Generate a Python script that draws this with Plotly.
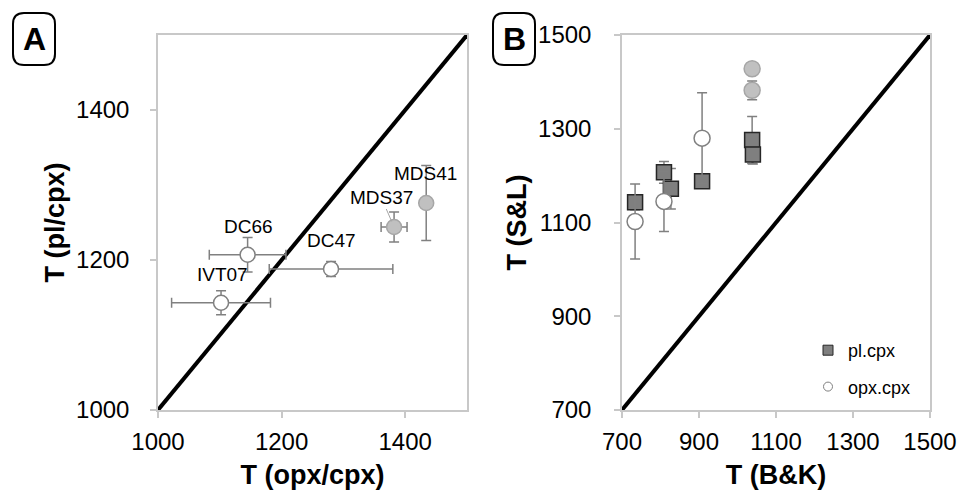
import plotly.graph_objects as go

# Panel A: pl/cpx vs opx/cpx thermometers
a_names = ["IVT07", "DC66", "DC47", "MDS37", "MDS41"]
a_opx_cpx = [1102, 1145, 1280, 1382, 1434]
a_opx_cpx_err = [80, 62, 100, 21, 0]
a_pl_cpx = [1143, 1207, 1188, 1244, 1276]
a_pl_cpx_err = [16, 23, 10, 20, 50]
a_fill = ["white", "white", "white", "#c0c0c0", "#c0c0c0"]
a_edge = ["#808080", "#808080", "#808080", "#a6a6a6", "#a6a6a6"]
a_label_shift = [(1, -28), (1, -28), (0, -29), (-13, -30), (-1, -30)]

# Panel B: S&L vs B&K
b_pl_bk = [734, 809, 827, 908, 1038, 1040]
b_pl_sl = [1143, 1207, 1172, 1188, 1276, 1245]
b_pl_err = [16, 23, 43, 10, 50, 20]
b_opx_bk = [734, 809, 908, 1038, 1038]
b_opx_sl = [1102, 1145, 1280, 1428, 1382]
b_opx_err = [80, 64, 97, 0, 20]
b_opx_fill = ["white", "white", "white", "#c0c0c0", "#c0c0c0"]
b_opx_edge = ["#808080", "#808080", "#808080", "#a6a6a6", "#a6a6a6"]

a_range = [1000, 1500]
b_range = [700, 1500]
a_ticks = [1000, 1200, 1400]
b_ticks = [700, 900, 1100, 1300, 1500]

W, H = 962, 492
FONT = "Liberation Sans, Arial, sans-serif"
ERR = "#808080"

fig = go.Figure()

# 1:1 lines
fig.add_trace(go.Scatter(x=a_range, y=a_range, mode="lines",
                         line=dict(color="black", width=4),
                         xaxis="x", yaxis="y", showlegend=False, hoverinfo="skip"))
fig.add_trace(go.Scatter(x=b_range, y=b_range, mode="lines",
                         line=dict(color="black", width=4),
                         xaxis="x2", yaxis="y2", showlegend=False, hoverinfo="skip"))

# Panel A points
fig.add_trace(go.Scatter(
    x=a_opx_cpx, y=a_pl_cpx, mode="markers", xaxis="x", yaxis="y",
    error_x=dict(type="data", array=a_opx_cpx_err, color=ERR, thickness=1.5, width=5),
    error_y=dict(type="data", array=a_pl_cpx_err, color=ERR, thickness=1.5, width=5),
    marker=dict(symbol="circle", size=15, color=a_fill,
                line=dict(color=a_edge, width=1.5)),
    showlegend=False))

# Panel B points
fig.add_trace(go.Scatter(
    x=b_pl_bk, y=b_pl_sl, mode="markers", xaxis="x2", yaxis="y2",
    error_y=dict(type="data", array=b_pl_err, color=ERR, thickness=1.5, width=5),
    marker=dict(symbol="square", size=15, color="#7f7f7f",
                line=dict(color="#262626", width=1.5)),
    showlegend=False))
fig.add_trace(go.Scatter(
    x=b_opx_bk, y=b_opx_sl, mode="markers", xaxis="x2", yaxis="y2",
    error_y=dict(type="data", array=b_opx_err, color=ERR, thickness=1.5, width=5),
    marker=dict(symbol="circle", size=16, color=b_opx_fill,
                line=dict(color=b_opx_edge, width=1.5)),
    showlegend=False))

# Legend entries
fig.add_trace(go.Scatter(
    x=[None], y=[None], mode="markers", xaxis="x2", yaxis="y2", name="pl.cpx",
    legendgroup="pl",
    marker=dict(symbol="square", size=10, color="#7f7f7f",
                line=dict(color="#262626", width=1))))
fig.add_trace(go.Scatter(
    x=[None], y=[None], mode="markers", xaxis="x2", yaxis="y2", name="opx.cpx",
    legendgroup="opx",
    marker=dict(symbol="circle", size=9, color="white",
                line=dict(color="#808080", width=1))))

# Sample labels in panel A
annotations = []
for name, xv, yv, (dx, dy) in zip(a_names, a_opx_cpx, a_pl_cpx, a_label_shift):
    if name == "MDS37":
        annotations.append(dict(
            x=xv, y=yv, xref="x", yref="y", text=name, showarrow=True,
            ax=dx, ay=dy, arrowhead=0, arrowwidth=1, arrowcolor="#a6a6a6",
            standoff=6, font=dict(family=FONT, size=19, color="black")))
    else:
        annotations.append(dict(
            x=xv, y=yv, xref="x", yref="y", text=name, showarrow=False,
            xshift=dx, yshift=-dy, font=dict(family=FONT, size=19, color="black")))


def px_x(p):
    return p / W


def px_y(p):
    return 1 - p / H


def rounded_box(x0, y0, x1, y1, r):
    # rounded rectangle path in paper coordinates from pixel corners
    pts = [
        f"M {px_x(x0 + r)},{px_y(y0)}",
        f"L {px_x(x1 - r)},{px_y(y0)}",
        f"Q {px_x(x1)},{px_y(y0)} {px_x(x1)},{px_y(y0 + r)}",
        f"L {px_x(x1)},{px_y(y1 - r)}",
        f"Q {px_x(x1)},{px_y(y1)} {px_x(x1 - r)},{px_y(y1)}",
        f"L {px_x(x0 + r)},{px_y(y1)}",
        f"Q {px_x(x0)},{px_y(y1)} {px_x(x0)},{px_y(y1 - r)}",
        f"L {px_x(x0)},{px_y(y0 + r)}",
        f"Q {px_x(x0)},{px_y(y0)} {px_x(x0 + r)},{px_y(y0)}",
        "Z",
    ]
    return " ".join(pts)


shapes = [
    dict(type="path", xref="paper", yref="paper", path=rounded_box(13, 13, 55, 65, 11),
         line=dict(color="black", width=2)),
    dict(type="path", xref="paper", yref="paper", path=rounded_box(493, 13, 535, 65, 11),
         line=dict(color="black", width=2)),
]
for letter, cx in (("A", 34), ("B", 514)):
    annotations.append(dict(
        x=px_x(cx), y=px_y(39), xref="paper", yref="paper", text=f"<b>{letter}</b>",
        showarrow=False, xanchor="center", yanchor="middle",
        font=dict(family=FONT, size=32, color="black")))

axis_common = dict(
    showgrid=False, zeroline=False, showline=True, linecolor="#c8c8c8", linewidth=1.5,
    mirror=True, ticks="outside", ticklen=6, tickcolor="#c8c8c8", tickwidth=1.5,
    automargin=False,
    tickfont=dict(family=FONT, size=24, color="black"),
)
title_font = dict(family=FONT, size=27, color="black")

fig.update_layout(
    width=W, height=H, margin=dict(l=0, r=0, t=0, b=0),
    paper_bgcolor="white", plot_bgcolor="white",
    xaxis=dict(domain=[158 / W, 467 / W], range=a_range, tickvals=a_ticks,
               anchor="y", ticklabelstandoff=3,
               title=dict(text="<b>T (opx/cpx)</b>", font=title_font, standoff=12),
               **axis_common),
    yaxis=dict(domain=[1 - 410 / H, 1 - 35 / H], range=a_range, tickvals=a_ticks,
               anchor="x", ticklabelstandoff=16,
               title=dict(text="<b>T (pl/cpx)</b>", font=title_font, standoff=4),
               **axis_common),
    xaxis2=dict(domain=[622 / W, 930 / W], range=b_range, tickvals=b_ticks,
                anchor="y2", ticklabelstandoff=3,
                title=dict(text="<b>T (B&K)</b>", font=title_font, standoff=12),
                **axis_common),
    yaxis2=dict(domain=[1 - 410 / H, 1 - 35 / H], range=b_range, tickvals=b_ticks,
                anchor="x2", ticklabelstandoff=18,
                title=dict(text="<b>T (S&L)</b>", font=title_font, standoff=4),
                **axis_common),
    legend=dict(x=808 / W, y=1 - 332 / H, xanchor="left", yanchor="top",
                font=dict(family=FONT, size=18, color="black"),
                bgcolor="rgba(0,0,0,0)", tracegroupgap=10, itemwidth=30),
    annotations=annotations,
    shapes=shapes,
)

fig.write_html("out.html")
